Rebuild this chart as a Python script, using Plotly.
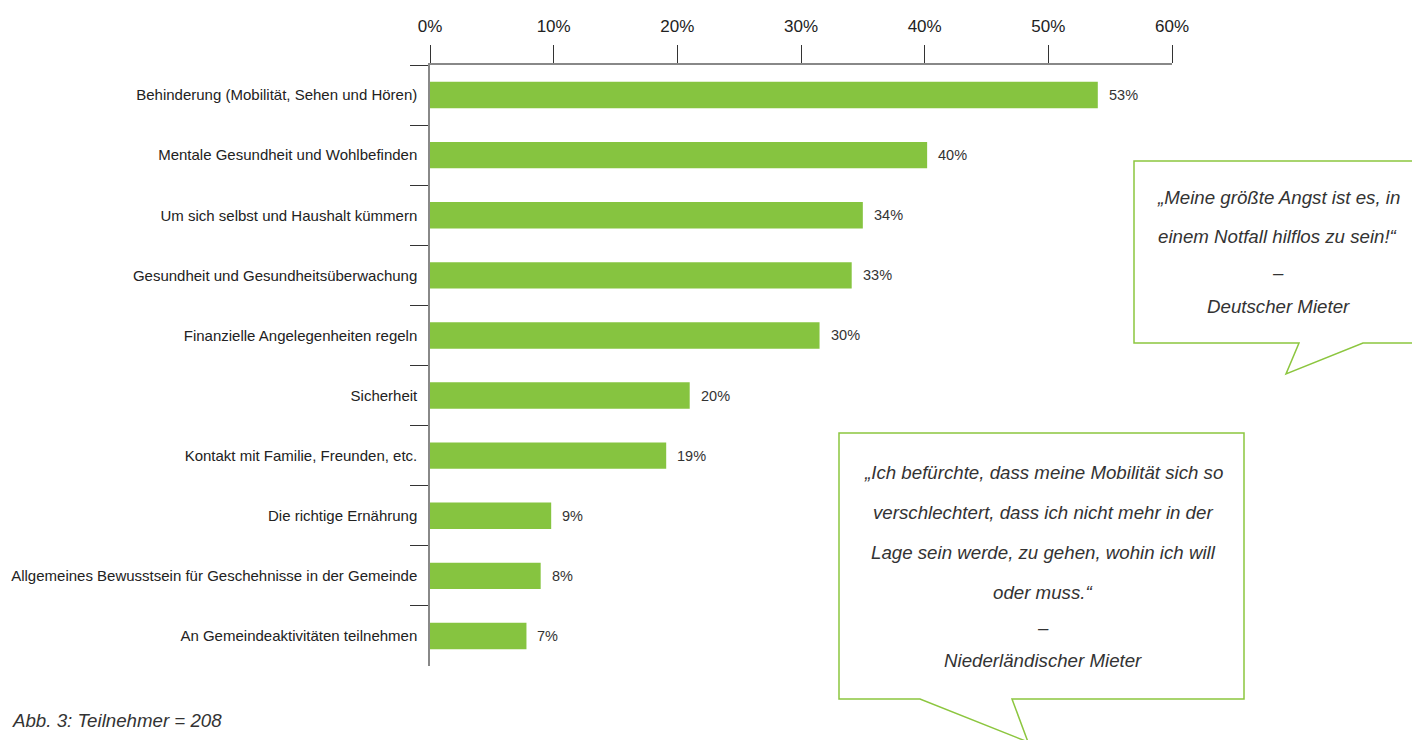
import plotly.graph_objects as go

categories = [
    "Behinderung (Mobilität, Sehen und Hören)",
    "Mentale Gesundheit und Wohlbefinden",
    "Um sich selbst und Haushalt kümmern",
    "Gesundheit und Gesundheitsüberwachung",
    "Finanzielle Angelegenheiten regeln",
    "Sicherheit",
    "Kontakt mit Familie, Freunden, etc.",
    "Die richtige Ernährung",
    "Allgemeines Bewusstsein für Geschehnisse in der Gemeinde",
    "An Gemeindeaktivitäten teilnehmen",
]
values = [54.0, 40.2, 35.0, 34.1, 31.5, 21.0, 19.1, 9.8, 8.95, 7.8]
value_labels = ["53%", "40%", "34%", "33%", "30%", "20%", "19%", "9%", "8%", "7%"]
x_ticks = [0, 10, 20, 30, 40, 50, 60]
x_tick_labels = ["0%", "10%", "20%", "30%", "40%", "50%", "60%"]

quote1 = ["„Meine größte Angst ist es, in", "einem Notfall hilflos zu sein!“", "–", "Deutscher Mieter"]
quote2 = ["„Ich befürchte, dass meine Mobilität sich so", "verschlechtert, dass ich nicht mehr in der",
          "Lage sein werde, zu gehen, wohin ich will", "oder muss.“", "–", "Niederländischer Mieter"]
caption = "Abb. 3: Teilnehmer = 208"

W, H = 1412, 740
L, R, T, B = 430, 240, 65, 74
PW, PH = W - L - R, H - T - B

def px(x):
    return (x - L) / PW

def py(y):
    return (H - B - y) / PH

FONT = "Liberation Sans, Arial, sans-serif"
GREEN = "#86C440"
QSIZE = 18.7

fig = go.Figure()
fig.add_trace(go.Bar(
    x=values, y=categories, orientation="h",
    marker=dict(color=GREEN, line=dict(width=0)),
    width=0.44, hoverinfo="skip",
))

annotations = []
for v, lab, c in zip(values, value_labels, categories):
    annotations.append(dict(x=v, y=c, xref="x", yref="y", text=lab, showarrow=False,
                            xanchor="left", yanchor="middle", xshift=9,
                            font=dict(family=FONT, size=14.5, color="#333333")))

def path_from(points):
    s = "M " + " L ".join(f"{px(x)},{py(y)}" for x, y in points) + " Z"
    return s

bubble1 = [(1134, 161), (1430, 161), (1430, 343), (1363, 343), (1286, 374), (1299, 343), (1134, 343)]
bubble2 = [(839, 433), (1244, 433), (1244, 699), (1012, 699), (1028, 742), (920, 699), (839, 699)]
shapes = []
for b in (bubble1, bubble2):
    shapes.append(dict(type="path", xref="paper", yref="paper", path=path_from(b),
                       line=dict(color="#8CC63F", width=1.5), fillcolor="white", layer="above"))

q1_y = [197, 237, 272, 306]
for t, y in zip(quote1, q1_y):
    annotations.append(dict(x=px(1278), y=py(y), xref="paper", yref="paper", text=t, showarrow=False,
                            xanchor="center", yanchor="middle",
                            font=dict(family=FONT, size=QSIZE, color="#333333", style="italic")))
q2_y = [472, 512, 552, 592, 627, 660]
for t, y in zip(quote2, q2_y):
    annotations.append(dict(x=px(1043), y=py(y), xref="paper", yref="paper", text=t, showarrow=False,
                            xanchor="center", yanchor="middle",
                            font=dict(family=FONT, size=QSIZE, color="#333333", style="italic")))

annotations.append(dict(x=px(10), y=py(720), xref="paper", yref="paper", text=caption, showarrow=False,
                        xanchor="left", yanchor="middle",
                        font=dict(family=FONT, size=QSIZE, color="#333333", style="italic")))

fig.update_layout(
    width=W, height=H,
    margin=dict(l=L, r=R, t=T, b=B, pad=0),
    paper_bgcolor="white", plot_bgcolor="white",
    showlegend=False,
    font=dict(family=FONT, color="#222222"),
    xaxis=dict(
        side="top", range=[0, 60], tickvals=x_ticks, ticktext=x_tick_labels,
        showgrid=False, zeroline=False, showline=True, linecolor="#888888", linewidth=1.5,
        ticks="outside", ticklen=18, tickwidth=1.2, tickcolor="#333333",
        tickfont=dict(family=FONT, size=17, color="#222222"), ticklabelstandoff=6,
        fixedrange=True,
    ),
    yaxis=dict(
        categoryorder="array", categoryarray=categories, autorange="reversed",
        showgrid=False, zeroline=False, showline=True, linecolor="#888888", linewidth=1.5,
        ticks="outside", ticklen=18, tickwidth=1.2, tickcolor="#333333", tickson="boundaries",
        tickfont=dict(family=FONT, size=15, color="#222222"), ticklabelstandoff=8,
        fixedrange=True,
    ),
    shapes=shapes,
    annotations=annotations,
)

fig.write_html("out.html", config={"displayModeBar": False})
